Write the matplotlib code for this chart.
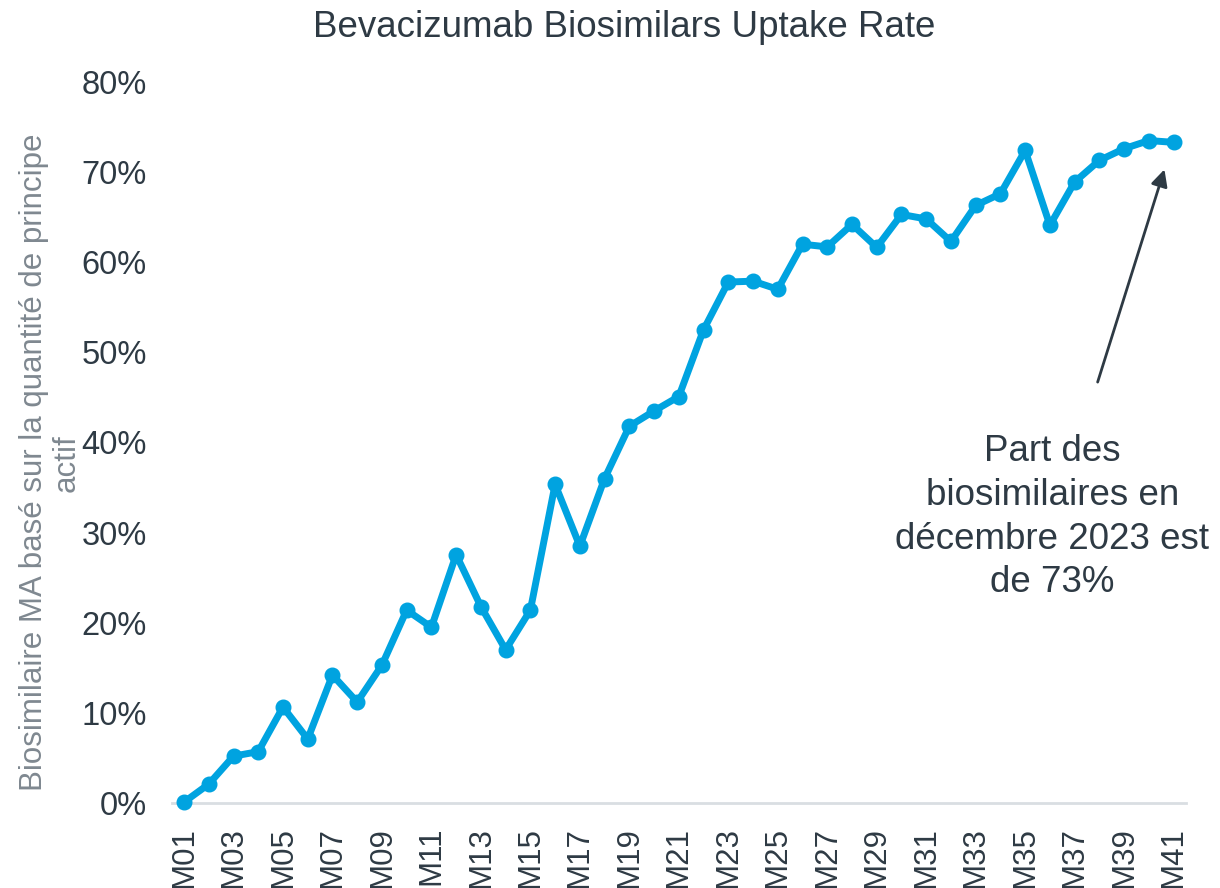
import matplotlib
matplotlib.use('Agg')
import matplotlib.pyplot as plt
from matplotlib.ticker import PercentFormatter

# Monthly uptake of bevacizumab biosimilars (share, 0-1)
months = ['M%02d' % i for i in range(1, 42)]
uptake = [0.001, 0.021, 0.052, 0.057, 0.1065, 0.071, 0.142, 0.112, 0.153, 0.214,
          0.195, 0.2755, 0.218, 0.170, 0.214, 0.3535, 0.285, 0.360, 0.418, 0.435,
          0.451, 0.525, 0.578, 0.579, 0.570, 0.620, 0.617, 0.642, 0.6165, 0.653,
          0.648, 0.623, 0.663, 0.676, 0.724, 0.641, 0.689, 0.713, 0.726, 0.735,
          0.733]

y_ticks = [0, 0.1, 0.2, 0.3, 0.4, 0.5, 0.6, 0.7, 0.8]
tick_months = months[::2]

line_color = '#00A3E0'
text_color = '#2E3A44'
label_color = '#7F8890'

plt.rcParams['font.family'] = ['Liberation Sans', 'DejaVu Sans']

fig = plt.figure(figsize=(12.2, 8.88), dpi=100)
ax = fig.add_axes([0.1407, 0.0957, 0.8314, 0.812])

x = list(range(len(months)))
ax.plot(x, uptake, color=line_color, linewidth=5, marker='o', markersize=10.5,
        solid_capstyle='round', zorder=3, clip_on=False)

ax.set_xlim(-0.5, len(months) - 0.5)
ax.set_ylim(0, 0.8)
ax.set_yticks(y_ticks)
ax.yaxis.set_major_formatter(PercentFormatter(1.0, decimals=0))
ax.set_xticks([months.index(m) for m in tick_months])
ax.set_xticklabels(tick_months, rotation=90)

ax.tick_params(axis='y', length=0, labelsize=23.5, labelcolor=text_color, pad=18)
ax.tick_params(axis='x', length=0, labelsize=22.5, labelcolor=text_color, pad=17)

for side in ['top', 'right', 'left']:
    ax.spines[side].set_visible(False)
ax.spines['bottom'].set_color('#D9DEE2')
ax.spines['bottom'].set_linewidth(2)

ax.set_ylabel('Biosimilaire MA basé sur la quantité de principe\nactif',
              fontsize=22.5, color=label_color, linespacing=1.1)
ax.yaxis.set_label_coords(-0.089, 0.472)

fig.text(0.512, 0.969, 'Bevacizumab Biosimilars Uptake Rate', ha='center', va='center',
         fontsize=26.5, color=text_color)

ax.text(35.1, 0.317, 'Part des\nbiosimilaires en\ndécembre 2023 est\nde 73%',
        ha='center', va='center', fontsize=26.5, color=text_color, linespacing=1.32)
ax.annotate('', xy=(39.63, 0.703), xytext=(36.93, 0.467),
            arrowprops=dict(arrowstyle='-|>', color=text_color, lw=2,
                            mutation_scale=25, shrinkA=0, shrinkB=0))

fig.savefig('out.png', dpi=100, facecolor='white')
